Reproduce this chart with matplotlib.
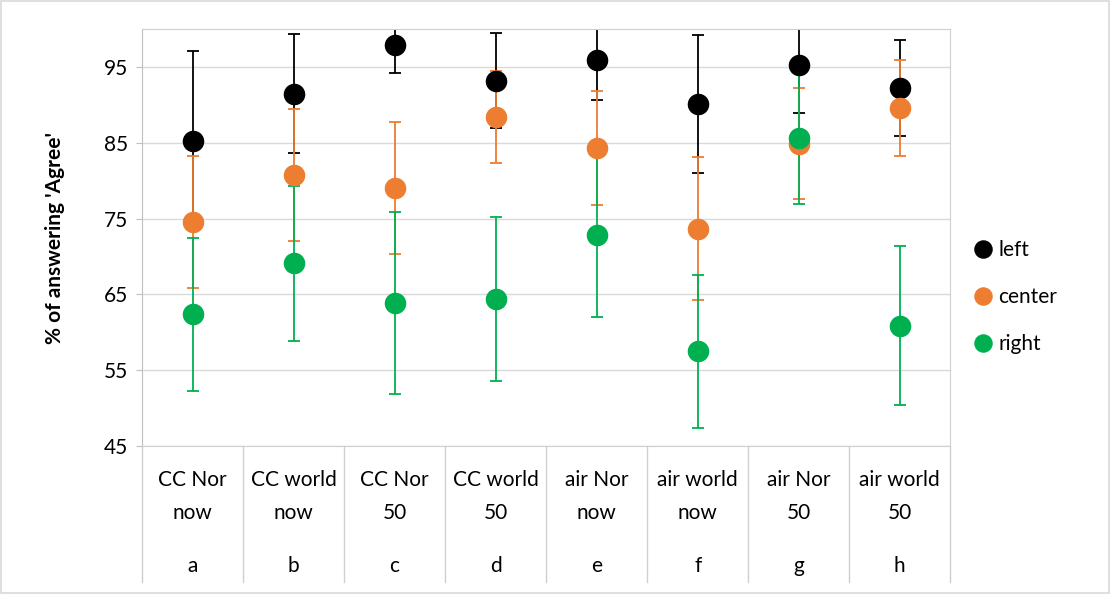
import matplotlib
matplotlib.use("Agg")
import matplotlib.pyplot as plt
import numpy as np

plt.rcParams["font.family"] = ["Lato", "DejaVu Sans"]

# ─── data ──────────────────────────────────────────────────────────────────────
topics_l1 = ["CC Nor", "CC world", "CC Nor", "CC world",
             "air Nor", "air world", "air Nor", "air world"]
topics_l2 = ["now", "now", "50", "50", "now", "now", "50", "50"]
letters   = ["a", "b", "c", "d", "e", "f", "g", "h"]

left_mean   = [85.3, 91.5, 97.9, 93.2, 95.9, 90.1, 95.2, 92.2]
left_err    = [11.8,  7.8,  3.7,  6.3,  5.3,  9.1,  6.3,  6.3]
center_mean = [74.6, 80.7, 79.1, 88.4, 84.3, 73.7, 84.9, 89.6]
center_err  = [ 8.7,  8.7,  8.7,  6.1,  7.5,  9.4,  7.3,  6.3]
right_mean  = [62.4, 69.1, 63.9, 64.4, 72.9, 57.5, 85.6, 60.9]
right_err   = [10.1, 10.2, 12.0, 10.8, 10.9, 10.1,  8.7, 10.5]

series = [
    ("left",   left_mean,   left_err,   "#000000"),
    ("center", center_mean, center_err, "#ED7D31"),
    ("right",  right_mean,  right_err,  "#00B050"),
]

FS = 15

# ─── plot ──────────────────────────────────────────────────────────────────────
fig = plt.figure(figsize=(11.10, 5.94), dpi=100)
ax = fig.add_axes([0.128, 0.249, 0.728, 0.702])

x = np.arange(len(topics_l1))

# error bars first, then markers on top (Excel style)
for name, m, e, c in series:
    ax.errorbar(x, m, yerr=e, fmt="none", ecolor=c, elinewidth=1.3,
                capsize=4.3, capthick=1.3, zorder=2)
for name, m, e, c in series:
    ax.plot(x, m, "o", color=c, markersize=14.5, label=name, zorder=3)

ax.set_xlim(-0.5, len(x) - 0.5)
ax.set_ylim(45, 100)
ax.set_yticks([45, 55, 65, 75, 85, 95])
ax.tick_params(axis="y", labelsize=FS, length=4, color="#bfbfbf", pad=6)
ax.tick_params(axis="x", bottom=False, labelbottom=False)
ax.grid(axis="y", color="#d9d9d9", linewidth=1)
ax.set_axisbelow(True)
for s in ax.spines.values():
    s.set_color("#d0d0d0")
ax.spines["left"].set_color("#bfbfbf")

ax.set_ylabel("% of answering 'Agree'", fontsize=FS, fontweight="bold",
              labelpad=28)

# two-level category axis
trans = ax.get_xaxis_transform()
for i in range(len(x) + 1):
    ax.plot([i - 0.5, i - 0.5], [0, -0.325], color="#d0d0d0", lw=1,
            transform=trans, clip_on=False)
for i in range(len(x)):
    ax.text(i, -0.082, topics_l1[i], transform=trans, ha="center",
            va="center", fontsize=FS)
    ax.text(i, -0.161, topics_l2[i], transform=trans, ha="center",
            va="center", fontsize=FS)
    ax.text(i, -0.288, letters[i], transform=trans, ha="center",
            va="center", fontsize=FS)

ax.legend(loc="center left", bbox_to_anchor=(1.012, 0.357), frameon=False,
          fontsize=FS, handletextpad=0.05, labelspacing=1.3,
          markerscale=0.85, handlelength=1.4, borderaxespad=0)

# light border round the whole chart
fig.patches.append(plt.Rectangle((0.001, 0.001), 0.998, 0.997,
                                 transform=fig.transFigure, fill=False,
                                 edgecolor="#d9d9d9", lw=1.2))

plt.savefig("out.png", dpi=100)
